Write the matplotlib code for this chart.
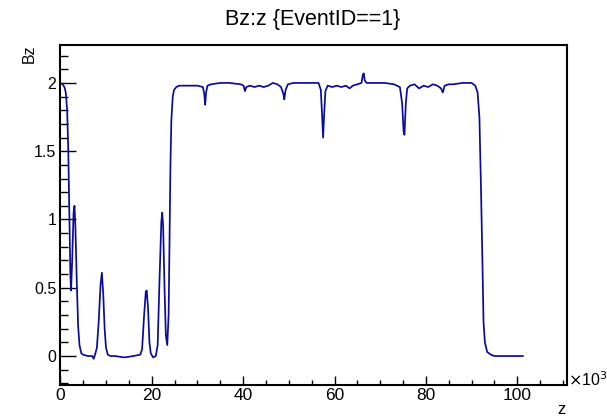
import matplotlib
matplotlib.use("Agg")
import matplotlib.pyplot as plt
from matplotlib.ticker import MultipleLocator

plt.rcParams['font.family'] = ['Liberation Sans', 'DejaVu Sans']

# z in units of 10^3, Bz values
z = [0.0, 0.5, 0.9, 1.2, 1.5, 1.75, 2.0, 2.2, 2.35, 2.6, 2.9, 3.1, 3.3, 3.6, 3.9, 4.2, 4.6, 5.0,
     6.0, 7.0, 7.3, 7.6, 8.0, 8.4, 8.8, 9.1, 9.4, 9.7, 10.0, 10.4, 11.0, 12.0, 14.0, 16.0,
     17.5, 17.9, 18.3, 18.7, 18.9, 19.2, 19.5, 19.8, 20.3, 20.9, 21.3, 21.7, 22.1, 22.3, 22.5,
     22.8, 23.1, 23.4, 23.7, 23.9, 24.1, 24.3, 24.6, 24.9, 25.4, 26.0, 28.0, 30.0, 31.2, 31.5,
     31.7, 31.9, 32.2, 33.0, 35.0, 37.0, 39.5, 40.1, 40.4, 40.7, 41.5, 42.5, 43.5, 44.5, 45.5,
     46.5, 47.5, 48.3, 48.8, 49.0, 49.3, 49.8, 51.0, 54.0, 56.5, 57.0, 57.3, 57.5, 57.7, 58.0,
     58.5, 59.5, 60.5, 61.5, 62.5, 63.3, 64.0, 65.0, 65.9, 66.2, 66.4, 66.6, 67.0, 69.0, 71.0,
     73.0, 74.3, 74.8, 75.1, 75.3, 75.6, 75.9, 76.5, 77.5, 78.5, 79.5, 80.5, 81.5, 82.5, 83.3,
     83.7, 84.1, 85.0, 86.0, 88.0, 90.0, 90.8, 91.3, 91.7, 92.0, 92.3, 92.6, 92.9, 93.4, 94.2,
     95.0, 98.0, 101.2]
bz = [2.00, 1.99, 1.97, 1.93, 1.80, 1.50, 1.00, 0.60, 0.48, 0.70, 1.05, 1.10, 0.95, 0.55, 0.22,
      0.08, 0.02, 0.01,
      0.00, 0.00, -0.02, 0.01, 0.06, 0.25, 0.52, 0.61, 0.45, 0.20, 0.06, 0.01, 0.00, 0.00, -0.01, 0.00,
      0.01, 0.05, 0.28, 0.47, 0.48, 0.35, 0.10, 0.02, -0.01, 0.00, 0.08, 0.55, 0.98, 1.05, 0.95,
      0.50, 0.15, 0.08, 0.30, 0.87, 1.40, 1.73, 1.90, 1.95, 1.97, 1.98, 1.98, 1.98, 1.97, 1.92,
      1.84, 1.93, 1.98, 1.99, 2.00, 2.00, 1.99, 1.98, 1.94, 1.97, 1.98, 1.97, 1.98, 1.97, 1.98,
      2.00, 1.99, 1.97, 1.92, 1.88, 1.95, 1.99, 2.00, 2.00, 2.00, 1.95, 1.75, 1.60, 1.75, 1.94,
      1.98, 1.97, 1.98, 1.97, 1.98, 1.96, 1.98, 1.99, 2.00, 2.06, 2.07, 2.02, 2.00, 2.00, 2.00,
      1.99, 1.97, 1.85, 1.65, 1.62, 1.85, 1.96, 1.98, 1.99, 1.96, 1.98, 1.97, 1.99, 1.98, 1.96,
      1.93, 1.98, 1.99, 1.99, 2.00, 2.00, 1.98, 1.93, 1.75, 1.30, 0.80, 0.25, 0.10, 0.03, 0.01,
      0.00, 0.00, 0.00]

xticks = [0, 20, 40, 60, 80, 100]
yticks = [0, 0.5, 1, 1.5, 2]
yticklabels = ['0', '0.5', '1', '1.5', '2']

W, H = 607, 418
fig = plt.figure(figsize=(W / 100, H / 100), dpi=100)
L, R, T, B = 60.3, 566.7, 44.7, 385.0
ax = fig.add_axes([L / W, 1 - B / H, (R - L) / W, (B - T) / H])

ax.plot(z, bz, color='#0a0aa0', lw=1.25)

ax.set_xlim(0, 110.8)
ax.set_ylim(-0.212, 2.28)

ax.set_xticks(xticks)
ax.xaxis.set_minor_locator(MultipleLocator(5))
ax.set_yticks(yticks)
ax.set_yticklabels(yticklabels)
ax.yaxis.set_minor_locator(MultipleLocator(0.1))

for s in ax.spines.values():
    s.set_linewidth(1.5)
ax.tick_params(axis='x', which='major', direction='in', length=6.5, width=1.0, labelsize=12.5, pad=2)
ax.tick_params(axis='x', which='minor', direction='in', length=3.6, width=1.0)
ax.tick_params(axis='y', which='major', direction='in', length=11.5, width=1.0, labelsize=11.5, pad=3)
ax.tick_params(axis='y', which='minor', direction='in', length=5.8, width=1.0)

fig.text(313 / W, 1 - 19 / H, 'Bz:z {EventID==1}', ha='center', va='center', fontsize=15.5)
fig.text(29 / W, 1 - 44.7 / H, 'Bz', ha='center', va='top', rotation=90, fontsize=11.5)
fig.text(566 / W, 1 - 409 / H, 'z', ha='right', va='center', fontsize=12)
fig.text(568 / W, 1 - 380 / H, '$\\times$10$^{3}$', ha='left', va='center', fontsize=11.5)

fig.savefig('out.png', dpi=100)
